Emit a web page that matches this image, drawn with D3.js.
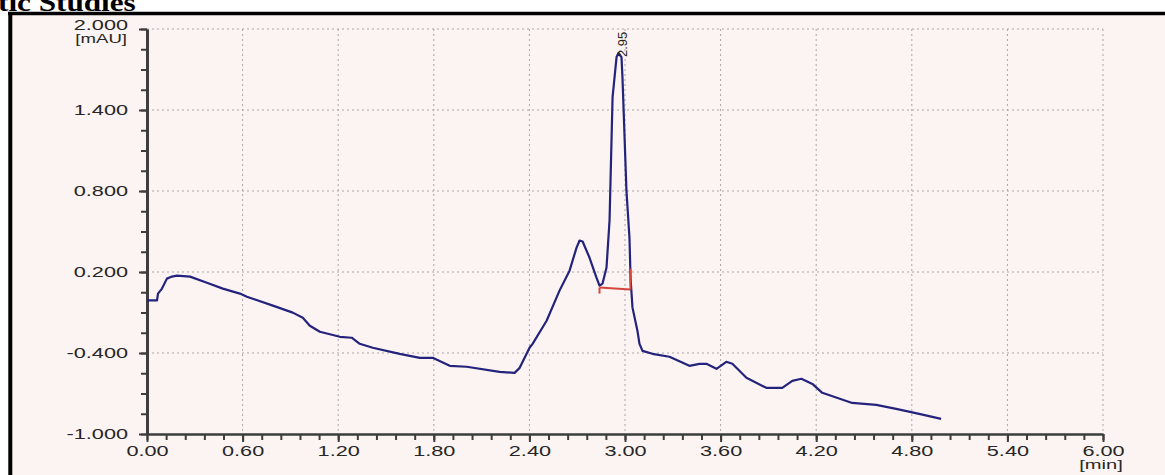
<!DOCTYPE html>
<html>
<head>
<meta charset="UTF-8">
<title>Chromatogram</title>
<script src="https://cdn.jsdelivr.net/npm/d3@7"></script>
<style>
  body { margin: 0; background: #fff; }
  svg { display: block; }
</style>
</head>
<body>
<svg id="chart"></svg>
<script>
// trace: retention time [min] and signal [mAU]
var times = [0, 0.063, 0.069, 0.094, 0.125, 0.157, 0.188, 0.27, 0.376, 0.476, 0.583, 0.627,
  0.79, 0.915, 0.978, 1.022, 1.085, 1.21, 1.285, 1.335, 1.417, 1.586, 1.712, 1.793, 1.9,
  2.006, 2.213, 2.307, 2.339, 2.401, 2.42, 2.508, 2.589, 2.652, 2.696, 2.715, 2.734, 2.777,
  2.821, 2.84, 2.859, 2.884, 2.903, 2.922, 2.947, 2.959, 2.978, 2.984, 3.009, 3.028, 3.035,
  3.047, 3.078, 3.091, 3.11, 3.172, 3.279, 3.404, 3.467, 3.511, 3.574, 3.636, 3.674, 3.762,
  3.887, 3.987, 4.05, 4.107, 4.176, 4.238, 4.426, 4.577, 4.702, 4.846, 4.984];
var signal = [-0.01, -0.01, 0.04, 0.077, 0.151, 0.166, 0.173, 0.166, 0.121, 0.077, 0.04, 0.017,
  -0.049, -0.101, -0.139, -0.198, -0.243, -0.28, -0.287, -0.332, -0.361, -0.406, -0.436, -0.436, -0.495,
  -0.502, -0.54, -0.547, -0.51, -0.361, -0.332, -0.161, 0.062, 0.21, 0.381, 0.433, 0.426, 0.307,
  0.158, 0.099, 0.114, 0.233, 0.582, 1.495, 1.792, 1.822, 1.792, 1.644, 0.804, 0.455, 0.15,
  -0.064, -0.235, -0.332, -0.384, -0.406, -0.428, -0.495, -0.48, -0.48, -0.517, -0.465, -0.48, -0.584,
  -0.658, -0.658, -0.606, -0.591, -0.629, -0.695, -0.77, -0.784, -0.814, -0.851, -0.888];

var xTicks = [0, 0.6, 1.2, 1.8, 2.4, 3.0, 3.6, 4.2, 4.8, 5.4, 6.0];
var yTicks = [2.0, 1.4, 0.8, 0.2, -0.4, -1.0];
var xUnit = "[min]";
var yUnit = "[mAU]";

var peakTimes = [2.95];
var peakLabels = ["2.95"];

// integration baseline of the main peak
var baselineTimes = [2.84, 3.034];
var baselineValues = [0.085, 0.07];
var baselineMarks = [0.04, 0.225];   // delimiter ends at start / end

var width = 1165, height = 475;
var stretch = 1.55;   // text in the source is stretched sideways
var labelFont = "Liberation Sans, Arial, sans-serif";

var svg = d3.select("#chart").attr("width", width).attr("height", height);

// caption left over from the page above
svg.append("text")
  .attr("transform", "translate(-2,11) scale(1.2,1)")
  .attr("font-family", "Liberation Serif, Times New Roman, serif")
  .attr("font-weight", "bold")
  .attr("font-size", 26)
  .attr("fill", "#000")
  .text("tic Studies");

// panel
svg.append("rect")
  .attr("x", 10).attr("y", 13)
  .attr("width", width).attr("height", height)
  .attr("fill", "#fcf4f2");
svg.append("line")
  .attr("x1", 8).attr("x2", width).attr("y1", 13.5).attr("y2", 13.5)
  .attr("stroke", "#000").attr("stroke-width", 3.5);
svg.append("line")
  .attr("x1", 10.3).attr("x2", 10.3).attr("y1", 12).attr("y2", height)
  .attr("stroke", "#000").attr("stroke-width", 4);

var x = d3.scaleLinear().domain([0, 6]).range([147, 1103]);
var y = d3.scaleLinear().domain([-1, 2]).range([434, 29]);

// dotted grid
var grid = svg.append("g").attr("stroke", "#a9a6a6").attr("stroke-width", 1)
  .attr("stroke-dasharray", "2,3");
grid.selectAll("line.h").data(yTicks.filter(function(d){ return d > -1; }))
  .enter().append("line")
  .attr("x1", x(0)).attr("x2", x(6))
  .attr("y1", function(d){ return y(d); })
  .attr("y2", function(d){ return y(d); });
grid.selectAll("line.v").data(xTicks.filter(function(d){ return d > 0; }))
  .enter().append("line")
  .attr("y1", y(2)).attr("y2", y(-1))
  .attr("x1", function(d){ return x(d); })
  .attr("x2", function(d){ return x(d); });

// minor ticks
var xMinor = d3.range(0, 6.001, 0.12);
var yMinor = d3.range(-1, 2.001, 0.15);
svg.append("g").attr("class", "minor")
  .attr("transform", "translate(0," + y(-1) + ")")
  .call(d3.axisBottom(x).tickValues(xMinor).tickSize(6).tickSizeOuter(0).tickFormat(""));
svg.append("g").attr("class", "minor")
  .attr("transform", "translate(" + x(0) + ",0)")
  .call(d3.axisLeft(y).tickValues(yMinor).tickSize(6).tickSizeOuter(0).tickFormat(""));

// major axes
var xAxis = svg.append("g")
  .attr("transform", "translate(0," + y(-1) + ")")
  .call(d3.axisBottom(x).tickValues(xTicks).tickSize(8).tickPadding(4).tickSizeOuter(0)
    .tickFormat(function(d){ return d.toFixed(2); }));
var yAxis = svg.append("g")
  .attr("transform", "translate(" + x(0) + ",0)")
  .call(d3.axisLeft(y).tickValues(yTicks).tickSize(8).tickSizeOuter(0)
    .tickFormat(function(d){ return d.toFixed(3); }));

svg.selectAll(".domain").attr("stroke", "#3d3d3d");
svg.selectAll(".tick line").attr("stroke", "#3d3d3d").attr("stroke-width", 2);
xAxis.select(".domain").attr("stroke-width", 2.5);
yAxis.select(".domain").attr("stroke-width", 3);

svg.selectAll(".tick text")
  .attr("font-family", labelFont)
  .attr("font-size", 14)
  .attr("fill", "#262626");
xAxis.selectAll(".tick text").attr("transform", "scale(" + stretch + ",1)");
yAxis.selectAll(".tick text")
  .attr("x", -19 / stretch)
  .attr("transform", "scale(" + stretch + ",1)");
// top label sits a little higher so the unit fits below it
yAxis.selectAll(".tick text").filter(function(d){ return d === 2; })
  .attr("dy", "0em");

// unit labels
svg.append("text")
  .attr("transform", "translate(127," + (y(2) + 14) + ") scale(" + stretch + ",1)")
  .attr("text-anchor", "end")
  .attr("font-family", labelFont)
  .attr("font-size", 12).attr("fill", "#262626")
  .text(yUnit);
svg.append("text")
  .attr("transform", "translate(" + (x(6) - 2) + "," + (y(-1) + 35) + ") scale(" + stretch + ",1)")
  .attr("text-anchor", "middle")
  .attr("font-family", labelFont)
  .attr("font-size", 13).attr("fill", "#262626")
  .text(xUnit);

// trace
var pts = times.map(function(t, i){ return [t, signal[i]]; });
var line = d3.line()
  .x(function(d){ return x(d[0]); })
  .y(function(d){ return y(d[1]); });
svg.append("path")
  .datum(pts)
  .attr("fill", "none")
  .attr("stroke", "#23237d")
  .attr("stroke-width", 2.2)
  .attr("stroke-linejoin", "round")
  .attr("d", line);

// baseline in red
var red = svg.append("g").attr("stroke", "#d5463f").attr("stroke-width", 2).attr("fill", "none");
red.append("path")
  .datum(baselineTimes.map(function(t, i){ return [t, baselineValues[i]]; }))
  .attr("d", line);
red.selectAll("line").data(baselineTimes).enter().append("line")
  .attr("x1", function(d){ return x(d); })
  .attr("x2", function(d){ return x(d); })
  .attr("y1", function(d, i){ return y(baselineValues[i]); })
  .attr("y2", function(d, i){ return y(baselineMarks[i]); });

// peak label, rotated
var peakMax = d3.max(signal);
svg.selectAll("text.peak").data(peakTimes).enter().append("text")
  .attr("class", "peak")
  .attr("transform", function(d){
    return "translate(" + (x(d) + 10) + "," + (y(peakMax) + 4) + ") rotate(-90)";
  })
  .attr("font-family", labelFont)
  .attr("font-size", 13)
  .attr("fill", "#262626")
  .text(function(d, i){ return peakLabels[i]; });
</script>
</body>
</html>
